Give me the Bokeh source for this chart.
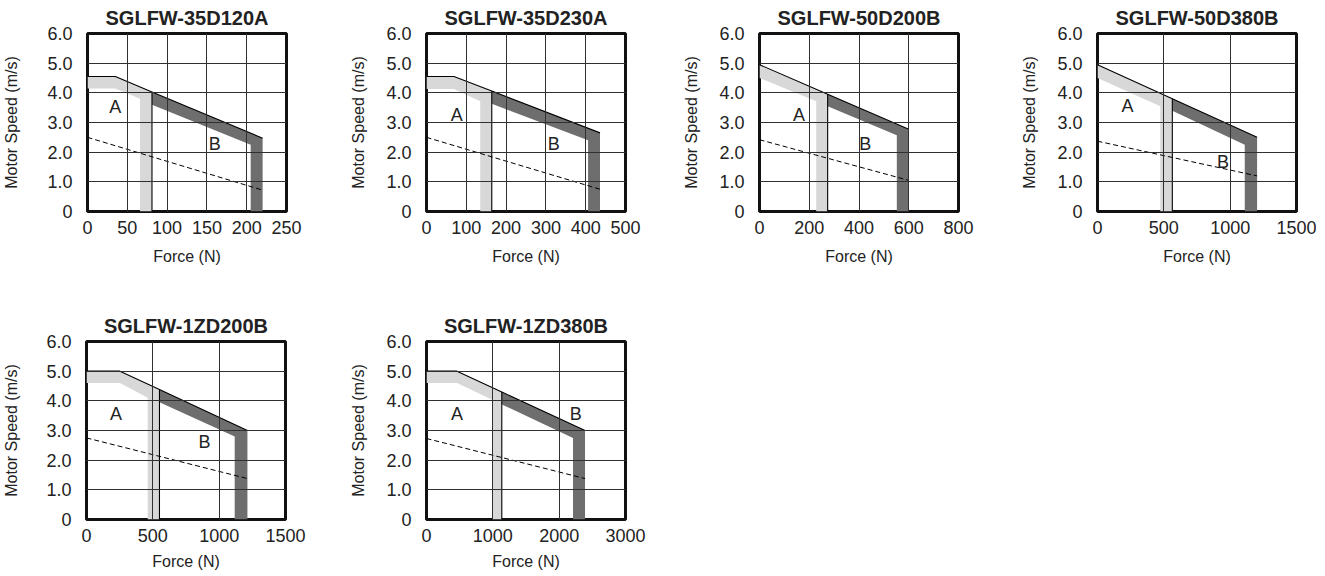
from bokeh.plotting import figure
from bokeh.layouts import row, column
from bokeh.models import Range1d, FixedTicker
from bokeh.core.properties import value
from bokeh.embed import file_html
from bokeh.resources import INLINE

# ---------------- data ----------------
titles = ["SGLFW-35D120A", "SGLFW-35D230A", "SGLFW-50D200B",
          "SGLFW-50D380B", "SGLFW-1ZD200B", "SGLFW-1ZD380B"]
force_max = [250, 500, 800, 1500, 1500, 3000]
force_ticks = [[0, 50, 100, 150, 200, 250],
               [0, 100, 200, 300, 400, 500],
               [0, 200, 400, 600, 800],
               [0, 500, 1000, 1500],
               [0, 500, 1000, 1500],
               [0, 1000, 2000, 3000]]
speed_ticks = [0, 1, 2, 3, 4, 5, 6]
speed_tick_labels = ["0", "1.0", "2.0", "3.0", "4.0", "5.0", "6.0"]

# outer envelope (peak force / speed limit)
env_force = [[0, 35, 81, 220, 220],
             [0, 69, 164, 436, 436],
             [0, 274, 600, 600],
             [0, 564, 1203, 1203],
             [0, 252, 550, 1213, 1213],
             [0, 459, 1135, 2390, 2390]]
env_speed = [[4.55, 4.55, 4.03, 2.47, 0],
             [4.55, 4.55, 4.06, 2.65, 0],
             [4.95, 3.95, 2.77, 0],
             [4.95, 3.80, 2.50, 0],
             [5.0, 5.0, 4.38, 3.0, 0],
             [5.0, 5.0, 4.30, 3.0, 0]]
# force where region A ends and region B begins
ab_force = [81, 164, 274, 564, 550, 1135]
# inner edge of region A band
a_inner_force = [[0, 35, 66, 66], [0, 69, 135, 135], [0, 228, 228],
                 [0, 473, 473], [0, 252, 461, 461], [0, 459, 998, 998]]
a_inner_speed = [[4.15, 4.15, 3.8, 0], [4.13, 4.13, 3.72, 0], [4.5, 3.72, 0],
                 [4.5, 3.55, 0], [4.6, 4.6, 4.1, 0], [4.6, 4.6, 4.03, 0]]
# inner edge of region B band
b_inner_force = [[81, 205, 205], [164, 406, 406], [274, 552, 552],
                 [564, 1110, 1110], [550, 1117, 1117], [1135, 2209, 2209]]
b_inner_speed = [[3.6, 2.25, 0], [3.63, 2.40, 0], [3.55, 2.57, 0],
                 [3.4, 2.25, 0], [3.95, 2.8, 0], [3.88, 2.75, 0]]
# dashed line
dash_force = [[0, 220], [0, 436], [0, 600], [0, 1203], [0, 1213], [0, 2390]]
dash_speed = [[2.5, 0.72], [2.5, 0.75], [2.42, 1.05], [2.37, 1.2],
              [2.75, 1.38], [2.73, 1.38]]

# annotation placement ("A", "B" labels)
label_a_pos = [(35, 3.53), (76, 3.24), (159, 3.26), (227, 3.54), (222, 3.54), (459, 3.54)]
label_b_pos = [(160, 2.28), (320, 2.27), (425, 2.27), (946, 1.68), (890, 2.62), (2249, 3.54)]

# ---------------- layout / style ----------------
FONT = "Liberation Sans"
LIGHT = "#d8d8d8"
DARK = "#6e6e6e"
FRAME_W, FRAME_H = 199, 178
left_borders = [82, 91, 97, 108, 78, 91]
ylabel_standoff = [24, 16, 16, 16, 23, 16]
col_w = 327


def make_plot(i, row_idx):
    L = left_borders[i]
    bottom = 97 if row_idx == 0 else 50
    p = figure(frame_width=FRAME_W, frame_height=FRAME_H,
               x_range=Range1d(0, force_max[i]), y_range=Range1d(0, 6),
               output_backend="svg", toolbar_location=None,
               min_border_left=L, min_border_right=col_w - 79 - FRAME_W if i == 0 else col_w - L - FRAME_W,
               min_border_top=27, min_border_bottom=bottom)
    p.title.text = titles[i]
    p.title.align = "center"
    p.title.text_font = FONT
    p.title.text_font_size = "20px"
    p.title.text_font_style = "bold"
    p.title.text_color = "#222222"
    p.title.standoff = 9

    f_env, v_env = env_force[i], env_speed[i]
    k = f_env.index(ab_force[i])
    ax = f_env[:k + 1] + [ab_force[i]] + a_inner_force[i][::-1]
    ay = v_env[:k + 1] + [0] + a_inner_speed[i][::-1]
    bx = f_env[k:] + b_inner_force[i][::-1]
    by = v_env[k:] + b_inner_speed[i][::-1]
    p.patch(ax, ay, fill_color=LIGHT, line_color=None)
    p.patch(bx, by, fill_color=DARK, line_color=None)
    p.line(f_env[:-1], v_env[:-1], line_color="black", line_width=1.1)
    p.segment(x0=[ab_force[i]], y0=[0], x1=[ab_force[i]], y1=[v_env[k]],
              line_color="black", line_width=1.1)
    p.line(dash_force[i], dash_speed[i], line_color="black", line_width=1,
           line_dash="5 3")

    p.text(x=[label_a_pos[i][0], label_b_pos[i][0]],
           y=[label_a_pos[i][1], label_b_pos[i][1]],
           text=["A", "B"], text_align="center", text_baseline="middle",
           text_font=value(FONT), text_font_size="18px", text_color="#222222")

    p.xaxis.ticker = FixedTicker(ticks=force_ticks[i])
    p.yaxis.ticker = FixedTicker(ticks=speed_ticks)
    p.xgrid.ticker = FixedTicker(ticks=force_ticks[i])
    p.ygrid.ticker = FixedTicker(ticks=speed_ticks)
    p.yaxis.major_label_overrides = {t: s for t, s in zip(speed_ticks, speed_tick_labels)}
    p.xaxis.axis_label = "Force (N)"
    p.yaxis.axis_label = "Motor Speed (m/s)"
    for a in (p.xaxis[0], p.yaxis[0]):
        a.axis_line_color = None
        a.major_tick_line_color = None
        a.minor_tick_line_color = None
        a.major_label_text_font = FONT
        a.major_label_text_font_size = "18px"
        a.major_label_text_color = "#222222"
        a.axis_label_text_font = FONT
        a.axis_label_text_font_size = "16px"
        a.axis_label_text_font_style = "normal"
        a.axis_label_text_color = "#222222"
    p.xaxis.major_label_standoff = 3
    p.xaxis.axis_label_standoff = 11 if row_idx == 0 else 8
    p.yaxis.major_label_standoff = 9
    p.yaxis.axis_label_standoff = ylabel_standoff[i]

    p.grid.grid_line_color = "#303030"
    p.grid.grid_line_width = 1
    p.grid.level = "overlay"
    p.outline_line_color = "#111111"
    p.outline_line_width = 3
    p.background_fill_color = "white"
    p.border_fill_color = "white"
    return p


plots = [make_plot(i, 0 if i < 4 else 1) for i in range(6)]
layout = column(row(*plots[:4]), row(*plots[4:]))

open("out.html", "w").write(file_html(layout, INLINE))
